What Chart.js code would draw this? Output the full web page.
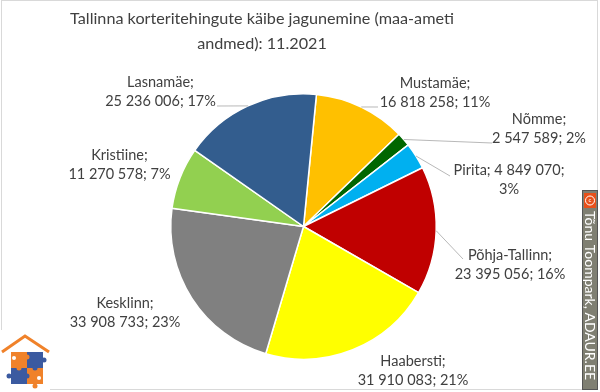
<!DOCTYPE html>
<html lang="et">
<head>
    <meta charset="UTF-8">
    <title>Tallinna korteritehingute käibe jagunemine</title>
    <script src="https://cdn.jsdelivr.net/npm/chart.js"></script>
    <style>
        body { margin: 0; background: #fff; }
        #wrap { width: 600px; height: 392px; position: relative; }
    </style>
</head>
<body>
    <div id="wrap">
        <canvas id="dvCanvas" width="600" height="392"></canvas>
    </div>

    <script>
        // data
        var districts = ['Mustamäe', 'Nõmme', 'Pirita', 'Põhja-Tallinn', 'Haabersti', 'Kesklinn', 'Kristiine', 'Lasnamäe'];
        var turnover = [16818258, 2547589, 4849070, 23395056, 31910083, 33908733, 11270578, 25236006];
        var percents = [11, 2, 3, 16, 21, 23, 7, 17];
        var colors = ['#FFC000', '#006600', '#00B0F0', '#C00000', '#FFFF00', '#808080', '#92D050', '#335D8E'];

        var titleLines = ['Tallinna korteritehingute käibe jagunemine (maa-ameti', 'andmed): 11.2021'];

        // label block centre and leader end, relative to pie centre
        var labelPos = [[131.5, -134], [235.5, -98], [205.5, -47], [206.5, 38], [109.5, 144.5], [-178.5, 86.5], [-184, -61.5], [-143, -135]];
        var leaderEnd = [[74.5, -119.5], [188.5, -83.5], [146.5, -50.5], [159.5, 32.5], null, null, null, [-86.5, -120.5]];
        var wrapAfterValue = [false, false, true, false, false, false, false, false];

        var labelFont = '14.5px Lato';
        var textColor = '#404040';

        function fmt(n) {
            return n.toString().replace(/\B(?=(\d{3})+(?!\d))/g, ' ');
        }

        function labelLines(i) {
            if (wrapAfterValue[i]) {
                return [districts[i] + '; ' + fmt(turnover[i]) + ';', percents[i] + '%'];
            }
            return [districts[i] + ';', fmt(turnover[i]) + '; ' + percents[i] + '%'];
        }

        var decorPlugin = {
            id: 'decor',
            beforeDraw: function(chart) {
                var ctx = chart.ctx;
                ctx.save();
                ctx.fillStyle = '#fff';
                ctx.fillRect(0, 0, chart.width, chart.height);
                ctx.strokeStyle = '#d9d9d9';
                ctx.lineWidth = 1;
                ctx.strokeRect(1.5, 0.5, 596, 389);

                ctx.fillStyle = '#404040';
                ctx.font = '16.2px Lato';
                ctx.textAlign = 'center';
                ctx.textBaseline = 'middle';
                ctx.fillText(titleLines[0], 262, 19);
                ctx.fillText(titleLines[1], 262, 44);
                ctx.restore();
            },
            afterDatasetsDraw: function(chart) {
                var ctx = chart.ctx;
                var arcs = chart.getDatasetMeta(0).data;
                ctx.save();
                ctx.font = labelFont;
                ctx.textAlign = 'center';
                ctx.textBaseline = 'middle';
                arcs.forEach(function(arc, i) {
                    var cx = arc.x, cy = arc.y;
                    if (leaderEnd[i]) {
                        var mid = (arc.startAngle + arc.endAngle) / 2;
                        ctx.beginPath();
                        ctx.strokeStyle = '#a6a6a6';
                        ctx.lineWidth = 0.8;
                        ctx.moveTo(cx + Math.cos(mid) * arc.outerRadius, cy + Math.sin(mid) * arc.outerRadius);
                        ctx.lineTo(cx + leaderEnd[i][0], cy + leaderEnd[i][1]);
                        ctx.stroke();
                    }
                    var lines = labelLines(i);
                    ctx.fillStyle = textColor;
                    ctx.fillText(lines[0], cx + labelPos[i][0], cy + labelPos[i][1] - 9.5);
                    ctx.fillText(lines[1], cx + labelPos[i][0], cy + labelPos[i][1] + 9.5);
                });
                ctx.restore();
            },
            afterDraw: function(chart) {
                var ctx = chart.ctx;
                ctx.save();

                // watermark strip on the right
                ctx.fillStyle = '#7f7f72';
                ctx.fillRect(582.5, 190.5, 15, 199);
                ctx.strokeStyle = '#555';
                ctx.lineWidth = 1;
                ctx.strokeRect(582.5, 190.5, 15, 199);
                ctx.fillStyle = '#E8501A';
                ctx.fillRect(584, 193, 12, 15);
                ctx.strokeStyle = '#fff';
                ctx.beginPath();
                ctx.arc(590, 200.5, 4.5, 0, Math.PI * 2);
                ctx.stroke();
                ctx.fillStyle = '#fff';
                ctx.font = '6px Lato';
                ctx.textAlign = 'center';
                ctx.textBaseline = 'middle';
                ctx.fillText('c', 590, 200.5);
                ctx.translate(590, 211);
                ctx.rotate(Math.PI / 2);
                ctx.font = '14px Lato';
                ctx.textAlign = 'left';
                ctx.fillText('Tõnu Toompark, ADAUR.EE', 0, 0.5);
                ctx.restore();

                // logo bottom left
                ctx.save();
                ctx.fillStyle = '#fff';
                ctx.fillRect(0, 330, 50, 62);
                ctx.strokeStyle = '#F0822A';
                ctx.lineWidth = 3;
                ctx.beginPath();
                ctx.moveTo(2, 352);
                ctx.lineTo(25, 336);
                ctx.lineTo(49, 352);
                ctx.stroke();
                var orange = '#F0822A', blue = '#3B5AA0';
                ctx.fillStyle = orange; ctx.fillRect(11, 352, 16, 16);
                ctx.fillStyle = blue; ctx.fillRect(27, 352, 16, 16);
                ctx.fillStyle = blue; ctx.fillRect(11, 368, 16, 16);
                ctx.fillStyle = orange; ctx.fillRect(27, 368, 16, 16);
                function knob(x, y, c) {
                    ctx.fillStyle = c;
                    ctx.beginPath();
                    ctx.arc(x, y, 2.5, 0, Math.PI * 2);
                    ctx.fill();
                }
                knob(27, 357, orange);
                knob(19, 368, orange);
                knob(35, 368, blue);
                knob(27, 376, blue);
                knob(9, 376, blue);
                knob(44, 360, blue);
                knob(35, 386, orange);
                ctx.fillStyle = '#fff';
                ctx.beginPath(); ctx.arc(14, 358, 2, 0, Math.PI * 2); ctx.fill();
                ctx.beginPath(); ctx.arc(39, 378, 2, 0, Math.PI * 2); ctx.fill();
                ctx.restore();
            }
        };

        var ctx = document.getElementById('dvCanvas').getContext('2d');
        var chart = new Chart(ctx, {
            type: 'pie',
            data: {
                labels: districts,
                datasets: [{
                    data: turnover,
                    backgroundColor: colors,
                    borderColor: '#ffffff',
                    borderWidth: 1.5
                }]
            },
            options: {
                responsive: false,
                animation: false,
                rotation: 5.6,
                layout: {
                    padding: { left: 170, right: 163, top: 93, bottom: 32 }
                },
                plugins: {
                    legend: { display: false },
                    title: { display: false },
                    tooltip: { enabled: false }
                }
            },
            plugins: [decorPlugin]
        });
    </script>
</body>
</html>
